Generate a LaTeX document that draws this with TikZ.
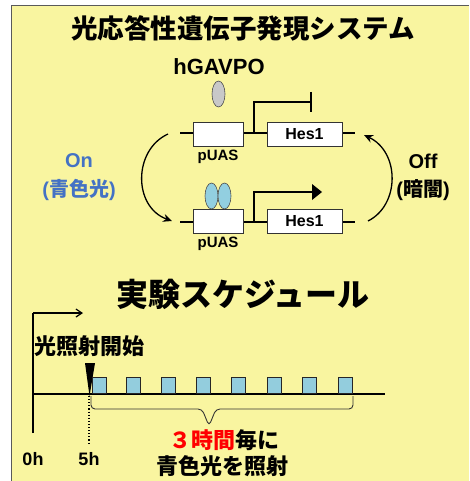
\documentclass[tikz,border=0pt]{standalone}
\usepackage{fontspec}
\setmainfont{Liberation Sans}
\newfontfamily\jp{Noto Sans CJK JP}
\usetikzlibrary{arrows.meta}
\definecolor{bgyellow}{RGB}{249,245,160}
\definecolor{framegray}{RGB}{90,90,90}
\definecolor{onblue}{RGB}{68,114,196}
\definecolor{lightblue}{RGB}{146,207,224}
\definecolor{sqblue}{RGB}{147,205,221}
\definecolor{ovalgray}{RGB}{200,200,200}
\tikzset{
  geneline/.style={line width=1.8pt, black},
  genebox/.style={draw=black!80, line width=0.9pt, fill=white, minimum width=50pt, minimum height=24pt, inner sep=0pt},
  hesbox/.style={genebox, minimum width=75pt, font=\fontsize{16}{18}\selectfont\bfseries},
  lbl/.style={font=\fontsize{15}{17}\selectfont\bfseries, inner sep=0pt},
  oval/.style={ellipse, draw=black!70, line width=0.6pt, minimum width=13pt, minimum height=26pt, inner sep=0pt},
  sq/.style={draw=black!85, line width=0.9pt, fill=sqblue, minimum width=14pt, minimum height=16pt, inner sep=0pt, anchor=south west},
  curv/.style={line width=1.3pt, -{Stealth[length=9pt,width=8pt,inset=3pt]}},
}
\usetikzlibrary{shapes.geometric}
\begin{document}
\begin{tikzpicture}[x=1pt,y=-1pt]
\useasboundingbox (0,0) rectangle (469,481);
\fill[white] (0,0) rectangle (469,481);
\fill[bgyellow] (11,5) rectangle (469,481);
\draw[framegray, line width=1.5pt] (11.5,481) -- (11.5,5.5) -- (469,5.5);

% title
\node[font=\jp\fontsize{26.5}{30}\selectfont\bfseries] (title) at (243,28) {光応答性遺伝子発現システム};

% hGAVPO
\node[font=\fontsize{22}{24}\selectfont\bfseries] (hg) at (219,67) {hGAVPO};
\node[oval, fill=ovalgray] (g1) at (218.5,94) {};

% top gene
\coordinate (t1) at (180,133);
\coordinate (t2) at (355,133);
\draw[geneline] (t1) -- (t2);
\node[genebox] (pu1) at (218,134) {};
\node[hesbox] (h1) at (304.5,134) {Hes1};
\coordinate (p1) at (254,133);
\coordinate (p1t) at (254,102);
\coordinate (p1e) at (311,102);
\draw[line width=1.3pt] (p1) -- (p1t) -- (p1e);
\draw[line width=1.3pt] (311,92) -- (311,112);
\node[lbl] (pl1) at (218,157) {pUAS};

% bottom gene
\coordinate (b1) at (180,222);
\coordinate (b2) at (355,222);
\draw[geneline] (b1) -- (b2);
\node[genebox] (pu2) at (218,221) {};
\node[hesbox] (h2) at (304.5,221) {Hes1};
\node[oval, fill=lightblue] (o1) at (211.5,196) {};
\node[oval, fill=lightblue] (o2) at (224.5,196) {};
\coordinate (p2) at (254,222);
\coordinate (p2t) at (254,192);
\coordinate (p2e) at (314,192);
\draw[line width=1.3pt] (p2) -- (p2t) -- (p2e);
\fill (312,184) -- (322,192) -- (312,200) -- cycle;
\node[lbl] (pl2) at (218,244) {pUAS};

% curved arrows
\coordinate (la) at (168,134);
\coordinate (lb) at (172,221);
\draw[curv] (la) .. controls (133,150) and (133,207) .. (lb);
\coordinate (ra) at (368,221);
\coordinate (rb) at (364,135);
\draw[curv] (ra) .. controls (400,205) and (400,152) .. (rb);

% On / Off
\node[text=onblue, font=\fontsize{20}{22}\selectfont\bfseries] (on) at (79,161) {On};
\node[text=onblue, font=\fontsize{20}{22}\selectfont\bfseries] (onj) at (79,190) {({\jp 青色光})};
\node[font=\fontsize{20}{22}\selectfont\bfseries] (off) at (423,161) {Off};
\node[font=\fontsize{20}{22}\selectfont\bfseries] (offj) at (423,190) {({\jp 暗闇})};

% schedule title
\node[font=\jp\fontsize{32}{36}\selectfont\bfseries] (sched) at (243,294) {実験スケジュール};

% axes
\coordinate (o) at (33,433);
\coordinate (ot) at (33,313);
\coordinate (oa) at (83,313);
\draw[line width=1.2pt] (o) -- (ot);
\draw[line width=1.2pt, -{Straight Barb[length=6pt,width=8pt]}] (ot) -- (oa);
\coordinate (bl) at (33,394);
\coordinate (br) at (385,394);
\draw[line width=1.2pt] (bl) -- (br);

\node[font=\jp\fontsize{22}{24}\selectfont\bfseries, anchor=west, inner sep=0pt] (start) at (34,346) {光照射開始};
\fill (85,363) -- (95,363) -- (89.5,396) -- cycle;

% squares
\foreach \i/\x in {1/92,2/126,3/161,4/196,5/231,6/267,7/302,8/338}{
  \node[sq] (s\i) at (\x,394) {};
}

% brace
\draw[black!80, line width=0.9pt, rounded corners=4pt] (91,396) -- (91,409) -- (202,409) -- (209,426) -- (216,409) -- (353,409) -- (353,396);

% dotted
\coordinate (d1) at (89,396);
\coordinate (d2) at (89,443);
\draw[dotted, line width=1.1pt] (d1) -- (d2);

\node[font=\fontsize{18}{20}\selectfont\bfseries] (h0) at (33,459) {0h};
\node[font=\fontsize{18}{20}\selectfont\bfseries] (h5) at (89,459) {5h};

\node[font=\jp\fontsize{22}{24}\selectfont\bfseries] (every) at (224,440) {\textcolor{red}{３時間}毎に};
\node[font=\jp\fontsize{22}{24}\selectfont\bfseries] (irr) at (222,466) {青色光を照射};
\end{tikzpicture}
\end{document}
